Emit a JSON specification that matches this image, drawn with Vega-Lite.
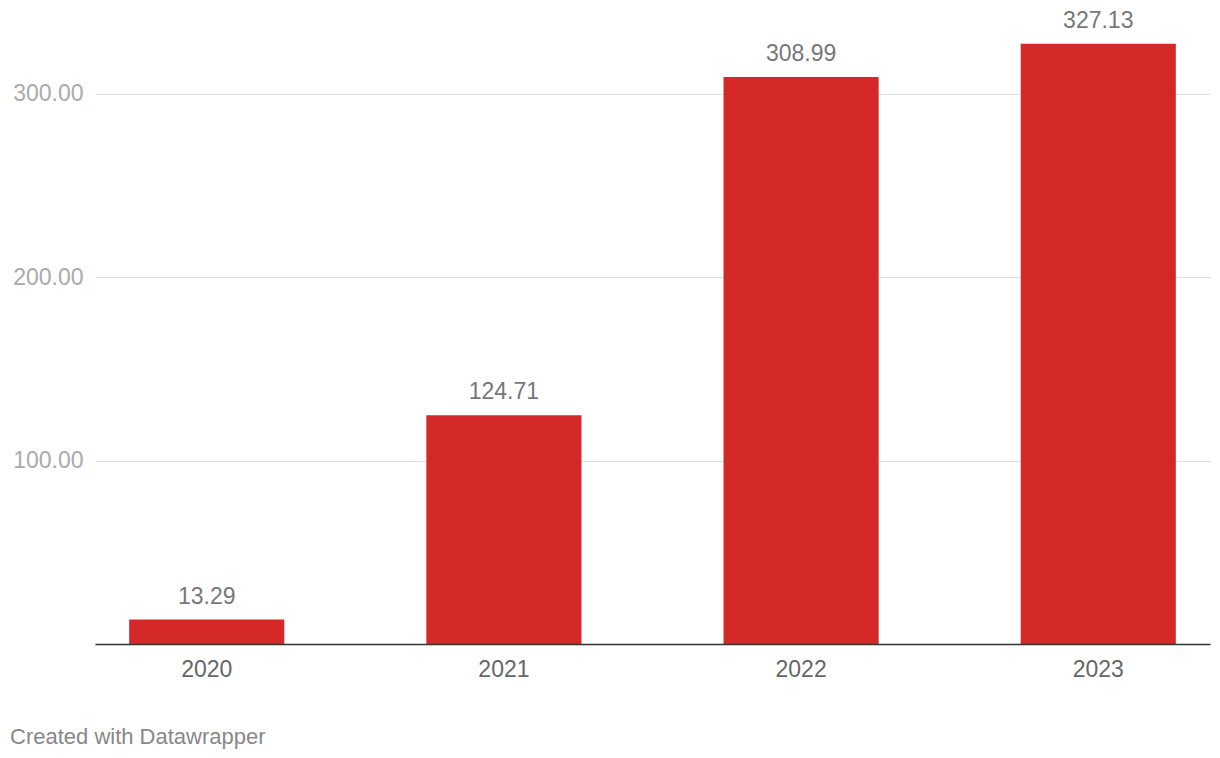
{
  "$schema": "https://vega.github.io/schema/vega-lite/v6.json",
  "autosize": "none",
  "width": 1115,
  "height": 644,
  "padding": {"left": 95, "top": 0, "right": 10, "bottom": 114},
  "background": "white",
  "config": {"view": {"stroke": null}, "font": "Liberation Sans"},
  "title": {
    "text": "Created with Datawrapper",
    "orient": "bottom",
    "anchor": "start",
    "frame": "group",
    "dx": -85,
    "offset": 46,
    "fontSize": 22,
    "fontWeight": "normal",
    "color": "#888888",
    "font": "Liberation Sans"
  },
  "data": {
    "values": [
      {"year": "2020", "value": 13.29},
      {"year": "2021", "value": 124.71},
      {"year": "2022", "value": 308.99},
      {"year": "2023", "value": 327.13}
    ]
  },
  "encoding": {
    "x": {
      "field": "year",
      "type": "nominal",
      "sort": null,
      "scale": {"paddingInner": 0.478, "paddingOuter": 0.115},
      "axis": {
        "title": null,
        "labelAngle": 0,
        "ticks": false,
        "domain": true,
        "domainColor": "#333333",
        "domainWidth": 1.5,
        "labelFontSize": 23,
        "labelColor": "#666666",
        "labelPadding": 14,
        "zindex": 1
      }
    },
    "y": {
      "field": "value",
      "type": "quantitative",
      "scale": {"domain": [0, 351], "nice": false},
      "axis": {
        "title": null,
        "values": [100, 200, 300],
        "format": ".2f",
        "ticks": false,
        "domain": false,
        "gridColor": "#e2e2e2",
        "gridWidth": 1,
        "labelFontSize": 23,
        "labelColor": "#aaaaaa",
        "labelPadding": 12
      }
    }
  },
  "layer": [
    {"mark": {"type": "bar", "color": "#d52828"}},
    {
      "mark": {"type": "text", "baseline": "alphabetic", "dy": -16, "fontSize": 23, "color": "#777777"},
      "encoding": {"text": {"field": "value", "type": "quantitative", "format": ".2f"}}
    }
  ]
}
